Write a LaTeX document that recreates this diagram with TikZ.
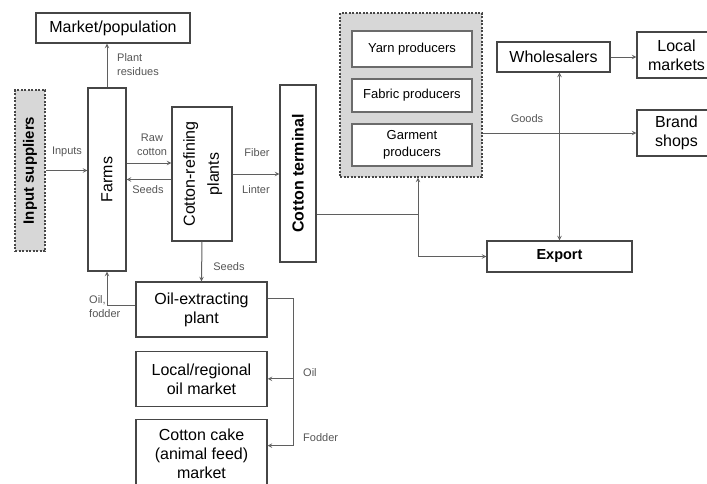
\documentclass[tikz,border=0pt]{standalone}
\usepackage{fontspec}
\setmainfont{Liberation Sans}
\usepackage{graphicx}
\usetikzlibrary{arrows, positioning}
\definecolor{boxgray}{RGB}{70, 70, 70}
\definecolor{linegray}{RGB}{95, 95, 95}
\definecolor{shadegray}{RGB}{215, 215, 215}
\definecolor{labelgray}{RGB}{85, 85, 85}

\begin{document}
\begin{tikzpicture}[
    x=1pt, y=-1pt,
    box/.style={draw=boxgray, line width=1.3pt, fill=white, align=center, inner sep=0pt, font=\fontsize{16}{19}\selectfont},
    innerbox/.style={draw=boxgray!80, line width=2pt, fill=white, align=center, inner sep=0pt, minimum width=120pt, font=\fontsize{13}{17}\selectfont},
    shaded/.style={draw=boxgray, dash pattern=on 2pt off 1.5pt, line width=1.2pt, fill=shadegray, inner sep=0pt},
    flowlabel/.style={font=\fontsize{11}{14}\selectfont, text=labelgray, align=left, inner sep=0pt},
    arrow/.style={->, >=stealth, draw=linegray, line width=1pt},
    dblarrow/.style={<->, >=stealth, draw=linegray, line width=1pt},
    line/.style={draw=linegray, line width=1pt}
]
\useasboundingbox (0,0) rectangle (707,483);

% Farm side
\node[box, minimum width=154pt, minimum height=30pt] (market) at (113,28) {Market/population};
\node[shaded, minimum width=30pt, minimum height=161pt, font=\fontsize{15}{18}\selectfont\bfseries] (suppliers) at (30,170.5) {\rotatebox{90}{Input suppliers}};
\node[box, minimum width=38pt, minimum height=183pt] (farms) at (107,179.5) {\rotatebox{90}{Farms}};
\node[box, minimum width=60pt, minimum height=134pt] (refining) at (202,174) {\rotatebox{90}{\fontsize{16}{24}\selectfont\begin{tabular}{@{}c@{}}Cotton-refining\\plants\end{tabular}}};
\node[box, minimum width=36pt, minimum height=177pt, font=\fontsize{16}{19}\selectfont\bfseries] (terminal) at (298,173.5) {\rotatebox{90}{Cotton terminal}};

% Producers
\node[shaded, minimum width=142pt, minimum height=164pt] (producers) at (411,95) {};
\node[innerbox, minimum height=36pt] (yarn) at (412,49) {Yarn producers};
\node[innerbox, minimum height=33pt, below=10pt of yarn] (fabric) {Fabric producers};
\node[innerbox, minimum height=42pt, below=10pt of fabric] (garment) {Garment\\producers};

% Trade
\node[box, minimum width=113pt, minimum height=30pt] (wholesalers) at (553.5,57) {Wholesalers};
\node[box, minimum width=79pt, minimum height=46pt] (localmkt) at (676.5,55) {Local\\markets};
\node[box, minimum width=79pt, minimum height=46pt] (brand) at (676.5,133) {Brand\\shops};
\node[box, minimum width=145pt, minimum height=31pt, font=\fontsize{14.5}{17}\selectfont\bfseries] (export) at (559.5,256.5) {Export};

% Oil side
\node[box, minimum width=131pt, minimum height=55pt] (oilplant) at (201.5,309.5) {Oil-extracting\\plant};
\node[box, minimum width=131pt, minimum height=55pt, below=13pt of oilplant] (oilmkt) {Local/regional\\oil market};
\node[box, minimum width=131pt, minimum height=68pt, below=12pt of oilmkt] (cake) {Cotton cake\\(animal feed)\\market};

% Connectors
\draw[arrow] (farms.north) -- (farms.north |- market.south);
\draw[arrow] (suppliers.east) -- (suppliers.east -| farms.west);
\coordinate (rawA) at ([yshift=16.5pt]farms.east);
\draw[arrow] (rawA) -- (rawA -| refining.west);
\draw[arrow] (farms.east -| refining.west) -- (farms.east);
\draw[arrow] (refining.east) -- (refining.east -| terminal.west);
\draw[arrow] (refining.south) -- (oilplant.north);
\coordinate (oilA) at ([yshift=4.5pt]oilplant.west);
\draw[arrow] (oilA) -| (farms.south);

\coordinate (split) at (418,214);
\draw[line] (terminal.east |- split) -- (split);
\draw[arrow] (split) -- (split |- producers.south);
\draw[arrow] (split) |- (export.west);
\draw[arrow] (brand.west -| producers.east) -- (brand.west);
\draw[dblarrow] (export.north) -- (export.north |- wholesalers.south);
\draw[arrow] (wholesalers.east) -- (wholesalers.east -| localmkt.west);

\coordinate (busTop) at ([xshift=26pt, yshift=11.5pt]oilplant.east);
\coordinate (busBot) at ([xshift=26pt, yshift=8pt]cake.east);
\draw[line] ([yshift=11.5pt]oilplant.east) -- (busTop) -- (busBot);
\draw[arrow] (busTop |- oilmkt.east) -- (oilmkt.east);
\draw[arrow] (busBot) -- ([yshift=8pt]cake.east);

% Labels
\node[flowlabel, anchor=west] (lblResidues) at (117,65) {Plant\\residues};
\node[flowlabel] (lblInputs) at (67,152) {Inputs};
\node[flowlabel, align=center] (lblRaw) at (152,145) {Raw\\cotton};
\node[flowlabel] (lblSeedsBack) at (148,190) {Seeds};
\node[flowlabel] (lblFiber) at (257,153) {Fiber};
\node[flowlabel] (lblLinter) at (256,190) {Linter};
\node[flowlabel] (lblSeedsDown) at (229,267) {Seeds};
\node[flowlabel, anchor=west] (lblOilFodder) at (89,307) {Oil,\\fodder};
\node[flowlabel] (lblGoods) at (527,119) {Goods};
\node[flowlabel, anchor=west] (lblOil) at (303,373) {Oil};
\node[flowlabel, anchor=west] (lblFodder) at (303,438) {Fodder};

\end{tikzpicture}
\end{document}
